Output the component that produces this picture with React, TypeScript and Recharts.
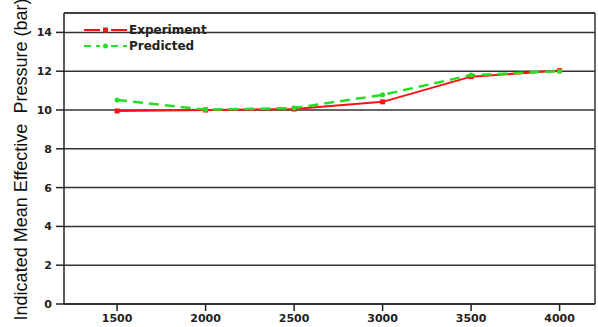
import React from 'react';
import { LineChart, Line, XAxis, YAxis, CartesianGrid, Legend, ReferenceLine } from 'recharts';

const speeds = [1500, 2000, 2500, 3000, 3500, 4000];
const experiment = [9.95, 10.0, 10.05, 10.42, 11.72, 12.03];
const predicted = [10.52, 10.02, 10.1, 10.78, 11.8, 12.0];
const yTicks = [0, 2, 4, 6, 8, 10, 12, 14];

const data = speeds.map((s, i) => ({ rpm: s, experiment: experiment[i], predicted: predicted[i] }));

const RED = '#ff1010';
const GREEN = '#22e022';

const SquareDot = (props: any) => {
  const { cx, cy } = props;
  if (cx == null || cy == null) return null;
  return <rect x={cx - 2.5} y={cy - 2.5} width={5} height={5} fill={RED} />;
};

const RoundDot = (props: any) => {
  const { cx, cy } = props;
  if (cx == null || cy == null) return null;
  return <circle cx={cx} cy={cy} r={2.5} fill={GREEN} />;
};

const LegendBox = () => (
  <div style={{ fontFamily: '"DejaVu Sans", sans-serif', fontWeight: 'bold', fontSize: 12, color: '#222' }}>
    <div style={{ display: 'flex', alignItems: 'center', height: 16 }}>
      <svg width={44} height={10}>
        <line x1={0} y1={5} x2={16} y2={5} stroke={RED} strokeWidth={2} />
        <rect x={19} y={2.5} width={5} height={5} fill={RED} />
        <line x1={27} y1={5} x2={43} y2={5} stroke={RED} strokeWidth={2} />
      </svg>
      <span style={{ marginLeft: 1 }}>Experiment</span>
    </div>
    <div style={{ display: 'flex', alignItems: 'center', height: 16 }}>
      <svg width={44} height={10}>
        <line x1={0} y1={5} x2={16} y2={5} stroke={GREEN} strokeWidth={2} strokeDasharray="7 5" />
        <circle cx={21.5} cy={5} r={2.5} fill={GREEN} />
        <line x1={27} y1={5} x2={43} y2={5} stroke={GREEN} strokeWidth={2} strokeDasharray="7 5" />
      </svg>
      <span style={{ marginLeft: 1 }}>Predicted</span>
    </div>
  </div>
);

const tickStyle = { fontFamily: '"DejaVu Sans", sans-serif', fontWeight: 'bold', fontSize: 11, fill: '#222' };

export default function App() {
  return (
    <div style={{ position: 'absolute', left: 0, top: 0, width: 598, height: 327, background: '#fff' }}>
      <LineChart width={598} height={327} data={data} margin={{ top: 13, right: 3, bottom: 0, left: 0 }}>
        <CartesianGrid horizontal vertical={false} stroke="#333" strokeWidth={1.5} />
        <XAxis
          type="number"
          dataKey="rpm"
          domain={[1200, 4200]}
          ticks={speeds}
          height={23}
          tickSize={7}
          tickMargin={3}
          stroke="#222"
          strokeWidth={1.5}
          tick={tickStyle}
        />
        <YAxis
          type="number"
          domain={[0, 15]}
          ticks={yTicks}
          width={64}
          tickSize={8}
          tickMargin={4}
          stroke="#222"
          strokeWidth={1.5}
          tick={tickStyle}
          label={{
            value: 'Indicated Mean Effective\u00a0\u00a0Pressure (bar)',
            angle: -90,
            position: 'insideLeft',
            offset: 0,
            dx: 21,
            dy: 1,
            style: { fontFamily: '"Liberation Sans", Arial, sans-serif', fontSize: 18, fill: '#111', textAnchor: 'middle' },
          }}
        />
        <ReferenceLine y={15} stroke="#333" strokeWidth={1.5} />
        <ReferenceLine x={4200} stroke="#333" strokeWidth={1.5} />
        <Legend
          verticalAlign="middle"
          align="center"
          layout="vertical"
          content={<LegendBox />}
          wrapperStyle={{ top: 22, left: 84, width: 'auto' }}
        />
        <Line
          type="linear"
          dataKey="experiment"
          stroke={RED}
          strokeWidth={2}
          dot={<SquareDot />}
          activeDot={false}
          isAnimationActive={false}
        />
        <Line
          type="linear"
          dataKey="predicted"
          stroke={GREEN}
          strokeWidth={2.5}
          strokeDasharray="10 6"
          dot={<RoundDot />}
          activeDot={false}
          isAnimationActive={false}
        />
      </LineChart>
    </div>
  );
}
